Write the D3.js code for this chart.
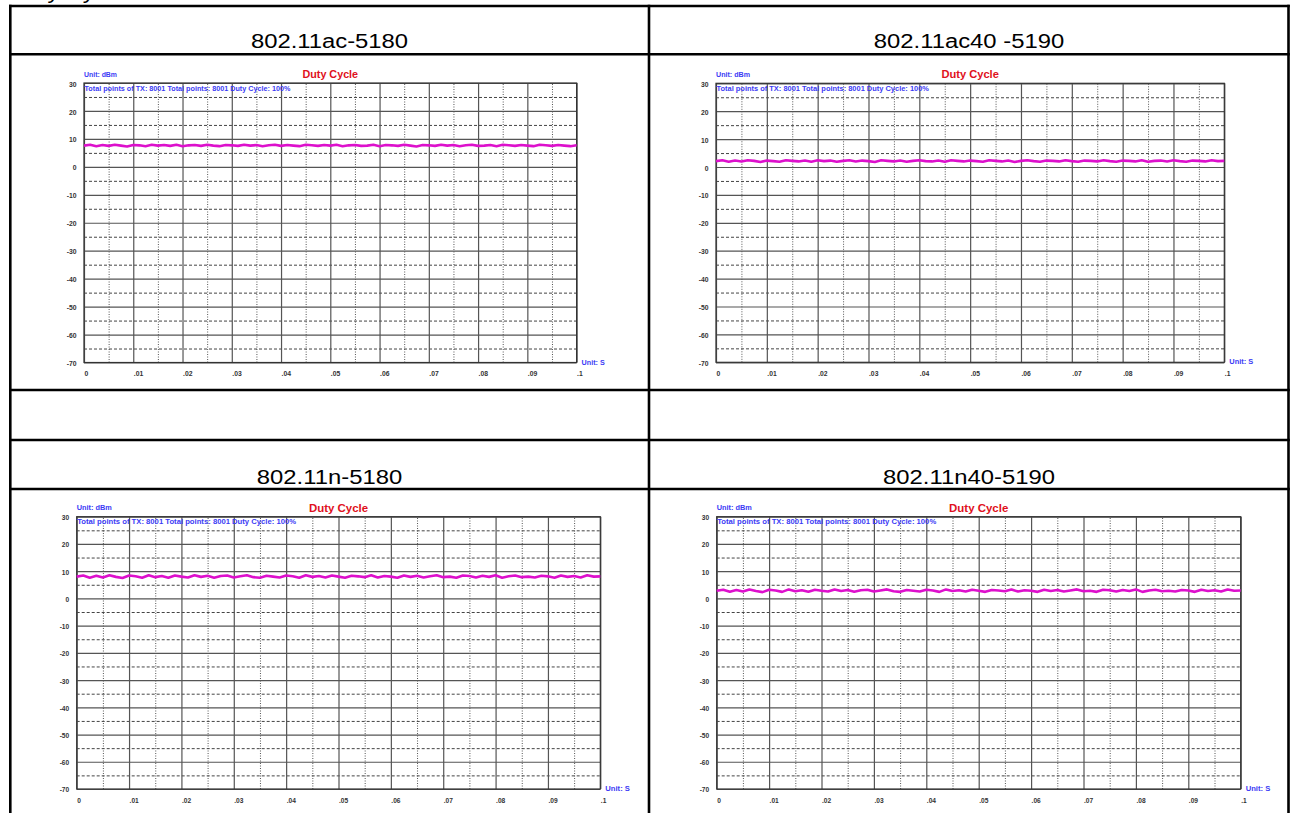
<!DOCTYPE html>
<html>
<head>
<meta charset="utf-8">
<title>Duty Cycle</title>
<script src="https://d3js.org/d3.v7.min.js"></script>
<style>
  body { margin: 0; background: #fff; }
  svg { display: block; }
</style>
</head>
<body>
<svg width="1294" height="813"></svg>
<script>
// ---- data ----
var titles = ["802.11ac-5180", "802.11ac40 -5190", "802.11n-5180", "802.11n40-5190"];

var yTicks = [30, 20, 10, 0, -10, -20, -30, -40, -50, -60, -70];
var yTickLabels = ["30", "20", "10", "0", "-10", "-20", "-30", "-40", "-50", "-60", "-70"];
var yMinor = [25, 15, 5, -5, -15, -25, -35, -45, -55, -65];
var xTicks = [0, .01, .02, .03, .04, .05, .06, .07, .08, .09, .1];
var xTickLabels = ["0", ".01", ".02", ".03", ".04", ".05", ".06", ".07", ".08", ".09", ".1"];
var xMinor = [.005, .015, .025, .035, .045, .055, .065, .075, .085, .095];

// power (dBm) samples across 0..0.1 s
var ac5180 = [7.6,7.9,7.4,7.8,7.5,7.9,7.6,7.3,7.8,7.7,7.4,7.9,7.6,7.8,7.5,7.9,7.4,7.7,7.8,7.5,7.9,7.6,7.4,7.8,7.7,7.5,7.9,7.6,7.8,7.4,7.7,7.9,7.5,7.8,7.6,7.4,7.9,7.7,7.5,7.8,7.6,7.9,7.4,7.7,7.8,7.5,7.6,7.9,7.4,7.8,7.7,7.5,7.9,7.6,7.3,7.8,7.7,7.5,7.9,7.6,7.8,7.4,7.7,7.9,7.5,7.6,7.8,7.4,7.9,7.7,7.5,7.8,7.6,7.4,7.9,7.7,7.5,7.8,7.6,7.4,7.7];
var ac40_5190 = [2.1,2.4,1.9,2.3,2.0,2.4,2.2,1.8,2.3,2.1,1.9,2.4,2.2,2.0,2.3,1.9,2.4,2.1,2.3,1.9,2.2,2.4,2.0,2.3,2.1,1.8,2.4,2.2,2.0,2.3,1.9,2.2,2.4,2.1,2.0,2.3,1.9,2.4,2.2,2.0,2.3,2.1,1.9,2.4,2.2,2.0,2.3,1.8,2.2,2.4,2.1,1.9,2.3,2.2,2.0,2.4,2.1,1.9,2.3,2.2,2.0,2.4,2.1,1.9,2.3,2.2,2.0,2.4,1.9,2.2,2.3,2.0,2.4,2.1,1.9,2.3,2.2,2.0,2.4,2.1,2.2];
var n5180 = [8.0,8.4,7.6,8.3,7.7,8.5,7.9,7.5,8.4,8.1,7.6,8.5,7.8,8.2,7.6,8.4,8.0,7.7,8.5,7.9,8.3,7.6,8.2,8.4,7.7,8.1,8.5,7.8,7.6,8.3,8.0,7.7,8.4,8.1,7.6,8.5,7.9,8.2,7.7,8.4,8.0,7.6,8.3,8.1,7.8,8.5,7.7,8.2,8.0,7.6,8.4,7.9,8.3,7.7,8.1,8.5,7.8,8.0,7.6,8.4,8.2,7.7,8.3,7.9,8.5,7.6,8.1,8.4,7.8,8.0,7.7,8.3,8.1,7.6,8.4,7.9,8.2,7.7,8.5,8.0,8.1];
var n40_5190 = [2.8,3.2,2.4,3.1,2.5,3.3,2.7,2.3,3.2,2.9,2.4,3.3,2.6,3.0,2.4,3.2,2.8,2.5,3.3,2.7,3.1,2.4,3.0,3.2,2.5,2.9,3.3,2.6,2.4,3.1,2.8,2.5,3.2,2.9,2.4,3.3,2.7,3.0,2.5,3.2,2.8,2.4,3.1,2.9,2.6,3.3,2.5,3.0,2.8,2.4,3.2,2.7,3.1,2.5,2.9,3.3,2.6,2.8,2.4,3.2,3.0,2.5,3.1,2.7,3.3,2.4,2.9,3.2,2.6,2.8,2.5,3.1,2.9,2.4,3.2,2.7,3.0,2.5,3.3,2.8,2.9];
var series = [ac5180, ac40_5190, n5180, n40_5190];

// ---- layout ----
var cells = [
  { cx: 329.5, base: 48.3, plot: [84, 83, 576.6, 362.5] },
  { cx: 969, base: 48.3, plot: [716, 83.3, 1224.3, 362.3] },
  { cx: 329.5, base: 483.5, plot: [76.7, 516.7, 600.3, 789] },
  { cx: 969, base: 483.5, plot: [716.7, 516.7, 1240.7, 789] }
];
var font = "'Liberation Sans', Arial, sans-serif";
var blue = "#3b3bf5";

var svg = d3.select("svg");

// cut-off page heading at the very top
svg.append("text")
  .attr("transform", "translate(11,-1.5) scale(1.12,1)")
  .style("font-family", font).style("font-size", "21px")
  .text("Duty Cycle");

// table frame
var hLines = [6, 54.3, 390, 440, 489];
var vLines = [10.3, 649, 1288.5];
svg.selectAll(".hl").data(hLines).enter().append("line")
  .attr("x1", 9).attr("x2", 1289.8).attr("y1", d => d).attr("y2", d => d)
  .attr("stroke", "#000").attr("stroke-width", 2.6);
svg.selectAll(".vl").data(vLines).enter().append("line")
  .attr("x1", d => d).attr("x2", d => d).attr("y1", 4.8).attr("y2", 813)
  .attr("stroke", "#000").attr("stroke-width", 2.6);

cells.forEach(function (c, i) {
  // cell heading
  svg.append("text")
    .attr("transform", "translate(" + c.cx + "," + c.base + ") scale(1.135,1)")
    .attr("text-anchor", "middle")
    .style("font-family", font).style("font-size", "21px")
    .text(titles[i]);

  var x0 = c.plot[0], y0 = c.plot[1], x1 = c.plot[2], y1 = c.plot[3];
  var pw = x1 - x0, ph = y1 - y0;
  var k = ph / 279.5;
  var fs = (6.8 * k) + "px";

  var x = d3.scaleLinear().domain([0, 0.1]).range([x0, x1]);
  var y = d3.scaleLinear().domain([-70, 30]).range([y1, y0]);
  var g = svg.append("g");

  // minor grid
  g.append("g").attr("transform", "translate(0," + y1 + ")")
    .call(d3.axisBottom(x).tickValues(xMinor).tickSize(-ph).tickFormat(""))
    .call(a => a.select(".domain").remove())
    .selectAll("line").attr("stroke", "#555").attr("stroke-width", 1).attr("stroke-dasharray", "1,1.5");
  g.append("g").attr("transform", "translate(" + x0 + ",0)")
    .call(d3.axisLeft(y).tickValues(yMinor).tickSize(-pw).tickFormat(""))
    .call(a => a.select(".domain").remove())
    .selectAll("line").attr("stroke", "#444").attr("stroke-width", 1).attr("stroke-dasharray", "3,2");

  // major grid
  g.append("g").attr("transform", "translate(0," + y1 + ")")
    .call(d3.axisBottom(x).tickValues(xTicks).tickSize(-ph).tickFormat(""))
    .call(a => a.select(".domain").remove())
    .selectAll("line").attr("stroke", "#555").attr("stroke-width", 1.2);
  g.append("g").attr("transform", "translate(" + x0 + ",0)")
    .call(d3.axisLeft(y).tickValues(yTicks).tickSize(-pw).tickFormat(""))
    .call(a => a.select(".domain").remove())
    .selectAll("line").attr("stroke", "#555").attr("stroke-width", 1.2);

  g.append("rect").attr("x", x0).attr("y", y0).attr("width", pw).attr("height", ph)
    .attr("fill", "none").attr("stroke", "#333").attr("stroke-width", 1.2);

  // tick labels
  var ya = g.append("g").attr("transform", "translate(" + x0 + ",0)")
    .call(d3.axisLeft(y).tickValues(yTicks).tickSize(0).tickPadding(7.5)
      .tickFormat((d, j) => yTickLabels[j]));
  ya.select(".domain").remove();
  ya.selectAll("text").attr("dy", "0.45em")
    .style("font-family", font).style("font-size", fs).style("font-weight", "bold").attr("fill", "#333");

  var xa = g.append("g").attr("transform", "translate(0," + y1 + ")")
    .call(d3.axisBottom(x).tickValues(xTicks).tickSize(0).tickPadding(9)
      .tickFormat((d, j) => xTickLabels[j]));
  xa.select(".domain").remove();
  xa.selectAll("text").attr("text-anchor", "start")
    .style("font-family", font).style("font-size", fs).style("font-weight", "bold").attr("fill", "#333");

  // chart texts
  g.append("text").attr("x", x0).attr("y", y0 - 6.5)
    .attr("textLength", 0.067 * pw).attr("lengthAdjust", "spacingAndGlyphs")
    .style("font-family", font).style("font-size", fs).style("font-weight", "bold").attr("fill", blue)
    .text("Unit: dBm");
  g.append("text").attr("x", (x0 + x1) / 2).attr("y", y0 - 5).attr("text-anchor", "middle")
    .attr("textLength", 0.113 * pw).attr("lengthAdjust", "spacingAndGlyphs")
    .style("font-family", font).style("font-size", (10.5 * k) + "px").style("font-weight", "bold").attr("fill", "#e01020")
    .text("Duty Cycle");
  g.append("text").attr("x", x0 + 0.5).attr("y", y0 + 7.5)
    .attr("textLength", 0.418 * pw).attr("lengthAdjust", "spacingAndGlyphs")
    .style("font-family", font).style("font-size", fs).style("font-weight", "bold").attr("fill", blue)
    .text("Total points of TX: 8001 Total points: 8001 Duty Cycle: 100%");
  g.append("text").attr("x", x1 + 5).attr("y", y1 + 2)
    .attr("textLength", 0.047 * pw).attr("lengthAdjust", "spacingAndGlyphs")
    .style("font-family", font).style("font-size", fs).style("font-weight", "bold").attr("fill", blue)
    .text("Unit: S");

  // trace
  var vals = series[i];
  var line = d3.line()
    .x((d, j) => x(0.1 * j / (vals.length - 1)))
    .y(d => y(d));
  g.append("path").datum(vals).attr("d", line)
    .attr("fill", "none").attr("stroke", "#dd10cc").attr("stroke-width", 2.6)
    .attr("stroke-linejoin", "bevel");
});
</script>
</body>
</html>
